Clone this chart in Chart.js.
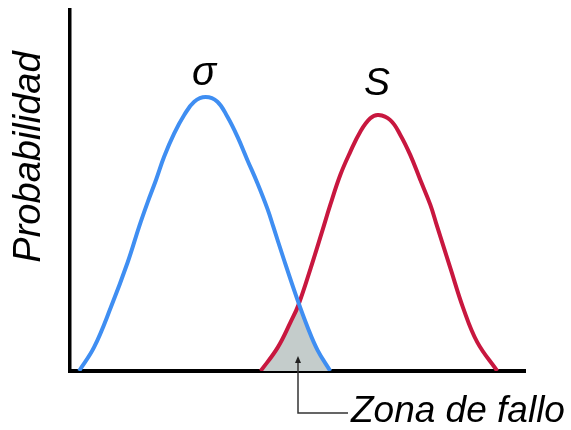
<!DOCTYPE html>
<html>
<head>
<meta charset="utf-8">
<script src="https://cdn.jsdelivr.net/npm/chart.js@4/dist/chart.umd.min.js"></script>
<style>
    body { margin: 0; background: #fff; }
</style>
</head>
<body>
<canvas id="myChart" width="571" height="430"></canvas>
<script>
// esfuerzo (sigma) - curva azul
const sigmaX = [2.0, 5.3, 9.0, 12.7, 15.2, 17.0, 18.9, 20.7, 22.9, 25.1, 27.3, 29.8, 32.4, 34.6, 36.8, 39.0, 41.2, 43.4, 44.7, 46.9, 50.0, 52.2, 54.4, 57.2];
const sigmaY = [0, 6.6, 17.7, 30.2, 40.0, 46.5, 52.9, 59.4, 65.8, 70.9, 74.6, 75.9, 74.6, 70.4, 64.9, 58.4, 52.0, 44.9, 39.9, 31.3, 19.7, 12.2, 5.8, 0];

// resistencia (S) - curva roja
const resX = [41.9, 45.6, 48.5, 50.2, 52.9, 55.4, 57.2, 59.4, 61.6, 63.8, 66.0, 67.8, 70.4, 72.6, 74.8, 77.0, 79.2, 80.6, 83.6, 86.4, 89.5, 93.9];
const resY = [0, 6.4, 13.6, 18.3, 28.5, 38.6, 46.0, 54.3, 60.7, 66.3, 70.0, 70.9, 69.5, 65.4, 59.8, 52.9, 46.0, 40.4, 28.5, 17.5, 8.0, 0];

// zona de fallo (solape)
const failX = [41.9, 43.8, 45.6, 47.1, 48.5, 50.1, 51.1, 52.2, 53.3, 54.4, 55.8, 57.2];
const failY = [0, 2.8, 6.4, 9.8, 13.6, 18.6, 15.4, 12.2, 8.9, 5.8, 2.6, 0];

const labels = { sigma: "σ", strength: "S", yTitle: "Probabilidad", zone: "Zona de fallo" };

const toPoints = (xs, ys) => xs.map((x, i) => ({ x: x, y: ys[i] }));

const textPlugin = {
    id: "textos",
    afterDraw(chart) {
        const ctx = chart.ctx;
        ctx.save();
        ctx.fillStyle = "#000";
        ctx.textBaseline = "alphabetic";

        // titulo eje y
        ctx.save();
        ctx.translate(29, 157);
        ctx.rotate(-Math.PI / 2);
        ctx.textAlign = "center";
        ctx.textBaseline = "middle";
        ctx.font = "italic 38px 'Liberation Sans', Arial, sans-serif";
        ctx.fillText(labels.yTitle, 0, 0);
        ctx.restore();

        ctx.textAlign = "center";
        ctx.font = "italic 40px 'Liberation Sans', Arial, sans-serif";
        ctx.fillText(labels.sigma, 204, 85);
        ctx.font = "italic 39px 'Liberation Sans', Arial, sans-serif";
        ctx.fillText(labels.strength, 377, 95);

        // flecha zona de fallo
        ctx.strokeStyle = "#333";
        ctx.lineWidth = 1.5;
        ctx.beginPath();
        ctx.moveTo(298, 360);
        ctx.lineTo(298, 413);
        ctx.lineTo(348, 413);
        ctx.stroke();
        ctx.fillStyle = "#222";
        ctx.beginPath();
        ctx.moveTo(298, 356);
        ctx.lineTo(295, 363);
        ctx.lineTo(301, 363);
        ctx.closePath();
        ctx.fill();

        ctx.fillStyle = "#000";
        ctx.textAlign = "left";
        ctx.font = "italic 37px 'Liberation Sans', Arial, sans-serif";
        ctx.fillText(labels.zone, 351, 422);
        ctx.restore();
    },
};

function main() {
    const ctx = document.getElementById("myChart");

    new Chart(ctx, {
        type: "line",
        data: {
            datasets: [
                {
                    label: labels.sigma,
                    data: toPoints(sigmaX, sigmaY),
                    borderColor: "#3f8ef2",
                    borderWidth: 4,
                    pointRadius: 0,
                    tension: 0.4,
                    fill: false,
                },
                {
                    label: labels.strength,
                    data: toPoints(resX, resY),
                    borderColor: "#c8173f",
                    borderWidth: 4,
                    pointRadius: 0,
                    tension: 0.4,
                    fill: false,
                },
                {
                    label: labels.zone,
                    data: toPoints(failX, failY),
                    borderWidth: 0,
                    borderColor: "rgba(0,0,0,0)",
                    backgroundColor: "#c4cccb",
                    pointRadius: 0,
                    tension: 0,
                    fill: "origin",
                },
            ],
        },
        options: {
            responsive: false,
            animation: false,
            layout: {
                padding: { left: 70, top: 10, right: 46, bottom: 59 },
            },
            plugins: {
                legend: { display: false },
                tooltip: { enabled: false },
            },
            scales: {
                x: {
                    type: "linear",
                    min: 0,
                    max: 100,
                    ticks: { display: false },
                    grid: { display: false, drawTicks: false, tickLength: 0 },
                    border: { display: true, color: "#000", width: 4 },
                },
                y: {
                    min: 0,
                    max: 100,
                    ticks: { display: false },
                    grid: { display: false, drawTicks: false, tickLength: 0 },
                    border: { display: true, color: "#000", width: 3.5 },
                },
            },
        },
        plugins: [textPlugin],
    });
}

main();
</script>
</body>
</html>
